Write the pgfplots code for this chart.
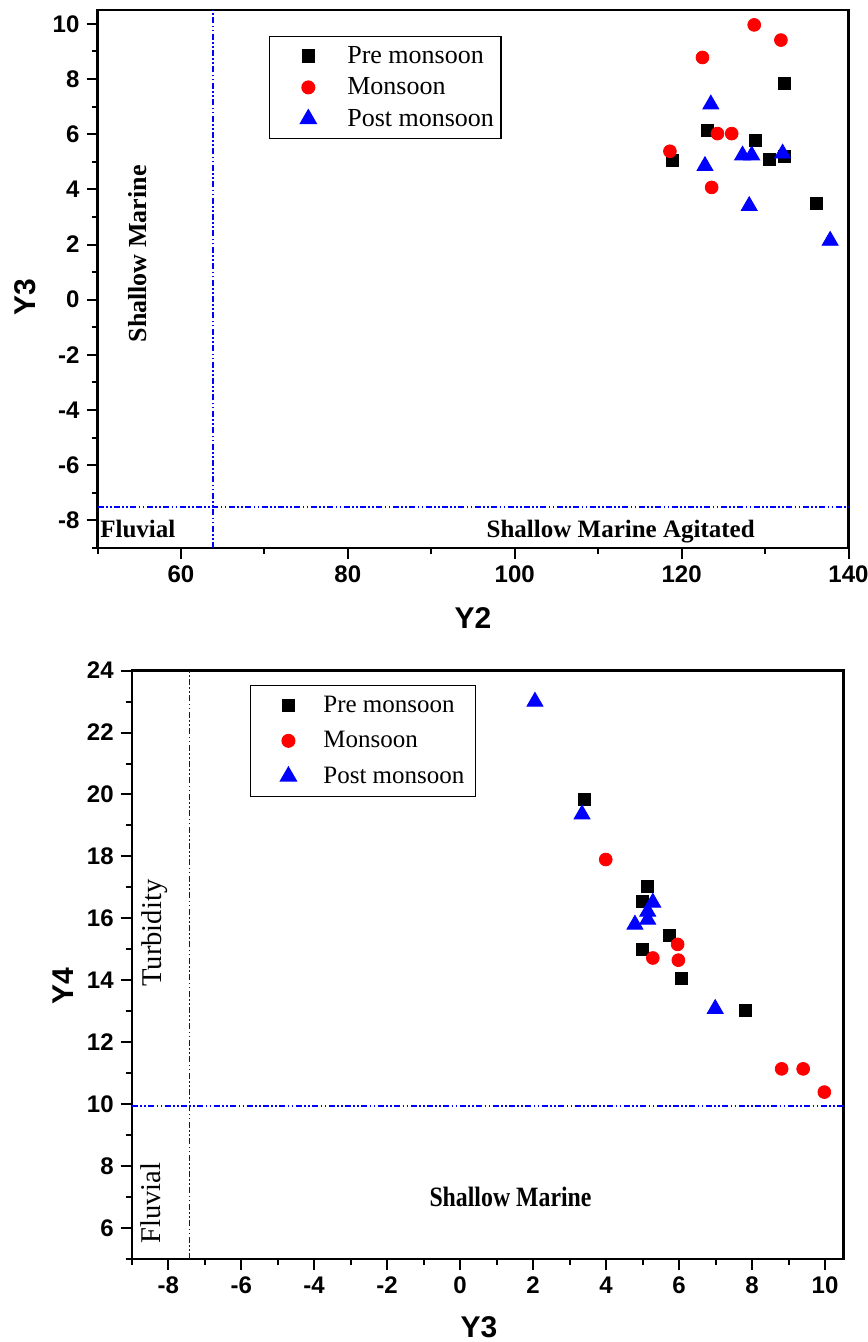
\documentclass[border=0pt]{standalone}
\usepackage{pgfplots}
\pgfplotsset{compat=1.18}
\usepackage{fontspec}
\setmainfont{Liberation Serif}
\newfontfamily\arial{Liberation Sans}

\pgfplotsset{
  chart/.style={
    scale only axis,
    axis line style={line width=1.2pt},
    tick pos=left, tick align=outside,
    major tick length=5.5pt, minor tick length=3pt,
    tick style={black, line width=1pt},
    /pgf/number format/assume math mode=true,
    ticklabel style={font=\arial\bfseries\fontsize{12}{12}\selectfont},
    label style={font=\arial\bfseries\fontsize{15}{15}\selectfont},
    legend cell align=left,
  },
  pre/.style={only marks, mark=square*, mark size=3pt, color=black},
  mon/.style={only marks, mark=*, mark size=3.2pt, color=red},
  post/.style={only marks, mark=triangle*, mark size=4.6pt, color=blue},
  zone/.style={draw=blue, color=blue, line width=0.85pt, dash pattern=on 3pt off 1.2pt on 0.8pt off 1.2pt on 0.8pt off 1.2pt, mark=none, forget plot},
}

\begin{document}
\begin{tikzpicture}
\useasboundingbox (0pt,0pt) rectangle (433.5pt,-671pt);

% Y2 vs Y3
\begin{axis}[chart,
  at={(48.75pt,-274pt)}, anchor=south west,
  width=375.5pt, height=269pt,
  xmin=50, xmax=140, ymin=-9, ymax=10.5,
  xtick={60,80,...,140}, minor xtick={50,70,...,130},
  ytick={-8,-6,...,10}, minor ytick={-9,-7,...,9},
  xlabel={Y2}, ylabel={Y3},
  xlabel style={at={(axis description cs:0.5,-0.13)}, anchor=center},
  ylabel style={at={(axis description cs:-0.0965,0.4665)}, anchor=center},
  legend image code/.code={\path[draw=none,fill=none] (0pt,0pt) -- (35.5pt,0pt); \draw[#1] plot[only marks] coordinates {(16pt,0pt)};},
  legend style={at={(axis description cs:0.228,0.952)}, anchor=north west,
    draw=black, line width=0.6pt, fill=white,
    font=\fontsize{13}{13}\selectfont,
    inner xsep=3.5pt, inner ysep=4.5pt, row sep=5.25pt,
    nodes={inner sep=0pt, text height=9pt, text depth=1.5pt}},
]
\addplot[zone] coordinates {(63.8,-9)(63.8,10.5)};
\addplot[zone] coordinates {(50,-7.52)(140,-7.52)};
\addplot[pre] coordinates {(118.9,5.05)(123.1,6.14)(128.9,5.78)(130.5,5.09)(132.3,5.20)(132.3,7.83)(136.2,3.50)};
\addlegendentry{Pre monsoon}
\addplot[mon] coordinates {(128.7,9.96)(131.9,9.41)(122.5,8.78)(124.3,6.02)(126.0,6.02)(118.6,5.38)(123.6,4.07)};
\addlegendentry{Monsoon}
\addplot[post] coordinates {(123.5,7.08)(122.8,4.85)(127.3,5.23)(128.4,5.23)(132.1,5.30)(128.1,3.40)(137.8,2.14)};
\addlegendentry{Post monsoon}
\node[rotate=90, font=\bfseries\fontsize{13}{13}\selectfont] at (axis cs:54.85,1.66) {Shallow Marine};
\node[anchor=base, font=\bfseries\fontsize{12.5}{12.5}\selectfont] at (axis cs:54.83,-8.61) {Fluvial};
\node[anchor=base, font=\bfseries\fontsize{12.5}{12.5}\selectfont] at (axis cs:112.7,-8.61) {Shallow Marine Agitated};
\end{axis}

% Y3 vs Y4
\begin{axis}[chart,
  at={(65.85pt,-629.5pt)}, anchor=south west,
  width=355.8pt, height=294.2pt,
  xmin=-9, xmax=10.5, ymin=5, ymax=24,
  xtick={-8,-6,...,10}, minor xtick={-9,-7,...,9},
  ytick={6,8,...,24}, minor ytick={5,7,...,23},
  xlabel={Y3}, ylabel={Y4},
  xlabel style={at={(axis description cs:0.488,-0.1156)}, anchor=center},
  ylabel style={at={(axis description cs:-0.0965,0.464)}, anchor=center},
  legend image code/.code={\path[draw=none,fill=none] (0pt,0pt) -- (31pt,0pt); \draw[#1] plot[only marks] coordinates {(13.5pt,0pt)};},
  legend style={at={(axis description cs:0.166,0.976)}, anchor=north west,
    draw=black, line width=0.6pt, fill=white,
    font=\fontsize{12.5}{12.5}\selectfont,
    inner xsep=5.5pt, inner ysep=5pt, row sep=7.75pt,
    nodes={inner sep=0pt, text height=8.5pt, text depth=1.5pt}},
]
\addplot[zone] coordinates {(-7.42,5)(-7.42,24)};
\addplot[zone] coordinates {(-9,9.95)(10.5,9.95)};
\addplot[pre] coordinates {(3.40,19.85)(5.14,17.04)(5.00,16.54)(5.73,15.45)(4.99,14.99)(6.05,14.06)(7.82,13.04)};
\addlegendentry{Pre monsoon}
\addplot[mon] coordinates {(3.99,17.90)(5.96,15.16)(5.28,14.72)(5.98,14.65)(8.81,11.14)(9.40,11.14)(9.98,10.39)};
\addlegendentry{Monsoon}
\addplot[post] coordinates {(2.05,23.0)(3.34,19.36)(5.28,16.51)(5.14,16.22)(5.14,15.96)(4.79,15.80)(6.99,13.08)};
\addlegendentry{Post monsoon}
\node[rotate=90, font=\fontsize{14.3}{14.3}\selectfont] at (axis cs:-8.36,15.52) {Turbidity};
\node[rotate=90, font=\fontsize{14.3}{14.3}\selectfont] at (axis cs:-8.47,6.81) {Fluvial};
\node[xscale=0.85, font=\bfseries\fontsize{14}{14}\selectfont] at (axis cs:1.38,7.0) {Shallow Marine};
\end{axis}
\end{tikzpicture}
\end{document}
